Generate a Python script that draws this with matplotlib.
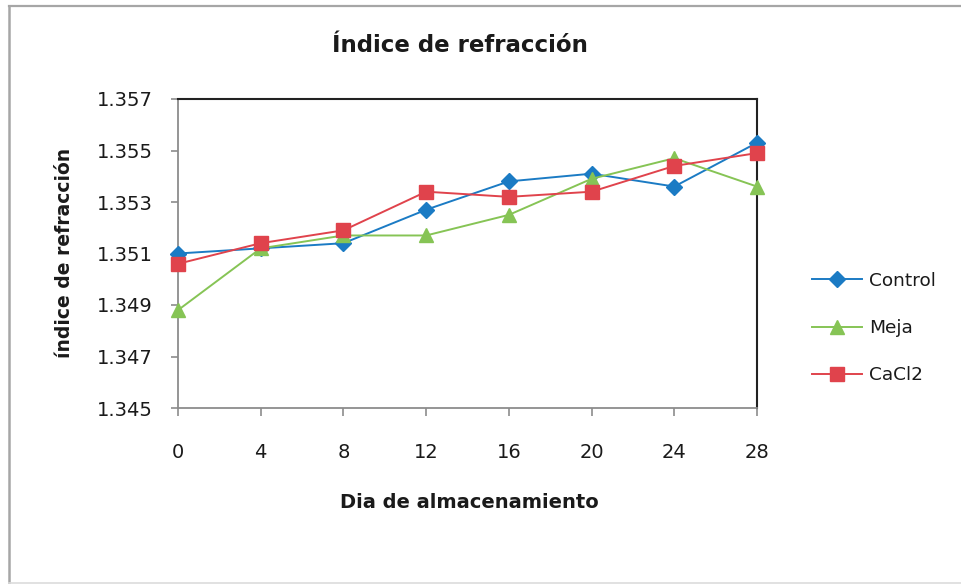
import matplotlib
matplotlib.use("Agg")
import matplotlib.pyplot as plt
from matplotlib.lines import Line2D

days = [0, 4, 8, 12, 16, 20, 24, 28]
control = [1.3510, 1.3512, 1.3514, 1.3527, 1.3538, 1.3541, 1.3536, 1.3553]
meja = [1.3488, 1.3512, 1.3517, 1.3517, 1.3525, 1.3539, 1.3547, 1.3536]
cacl2 = [1.3506, 1.3514, 1.3519, 1.3534, 1.3532, 1.3534, 1.3544, 1.3549]
y_ticks = [1.345, 1.347, 1.349, 1.351, 1.353, 1.355, 1.357]

plt.rcParams['font.family'] = ['DejaVu Sans']

W, H = 961, 584
fig = plt.figure(figsize=(W / 100, H / 100), dpi=100)

def fx(px):
    return px / W

def fy(py):
    return 1 - py / H

# outer chart border (Excel chart area)
fig.lines.append(Line2D([fx(8.5), fx(961)], [fy(6), fy(6)], transform=fig.transFigure, color='#a6a6a6', lw=1.6))
fig.lines.append(Line2D([fx(8.5), fx(8.5)], [fy(6), fy(584)], transform=fig.transFigure, color='#a6a6a6', lw=1.8))
fig.lines.append(Line2D([fx(8.5), fx(961)], [fy(583), fy(583)], transform=fig.transFigure, color='#dcdcdc', lw=1.2))

ax = fig.add_axes([fx(178), fy(408), (757 - 178) / W, (408 - 99) / H])
x = list(range(len(days)))
ax.plot(x, control, color='#1b7bc4', marker='D', markersize=8.5, linewidth=1.4, label='Control', clip_on=False, zorder=3)
ax.plot(x, meja, color='#86c455', marker='^', markersize=10.5, linewidth=1.4, label='Meja', clip_on=False, zorder=3)
ax.plot(x, cacl2, color='#e0434c', marker='s', markersize=10, linewidth=1.4, label='CaCl2', clip_on=False, zorder=3)

ax.set_xlim(0, len(days) - 1)
ax.set_ylim(1.345, 1.357)
ax.set_xticks(x)
ax.set_xticklabels([str(d) for d in days])
ax.set_yticks(y_ticks)
ax.set_yticklabels([f"{v:.3f}" for v in y_ticks])
ax.tick_params(axis='both', labelsize=14, color='#8c8c8c', direction='out', labelcolor='#1a1a1a')
ax.tick_params(axis='x', length=6, width=1.2, pad=19)
ax.tick_params(axis='y', length=5, width=1.2, pad=13)
for s in ['left', 'bottom']:
    ax.spines[s].set_color('#8c8c8c')
    ax.spines[s].set_linewidth(1.3)
for s in ['top', 'right']:
    ax.spines[s].set_color('#222222')
    ax.spines[s].set_linewidth(1.5)

fig.text(fx(460), fy(46), 'Índice de refracción', ha='center', va='center',
         fontsize=16.5, fontweight='bold', color='#1a1a1a')
fig.text(fx(65), fy(253), 'índice de refracción', ha='center', va='center', rotation=90,
         fontsize=13.5, fontweight='bold', color='#1a1a1a')
fig.text(fx(469), fy(503), 'Dia de almacenamiento', ha='center', va='center',
         fontsize=14, fontweight='bold', color='#1a1a1a')

leg = fig.legend(loc='center left', bbox_to_anchor=(fx(812), fy(328)), frameon=False,
                 fontsize=13.3, handlelength=2.7, labelspacing=1.58, handletextpad=0.38,
                 borderaxespad=0, borderpad=0)
for t in leg.get_texts():
    t.set_color('#1a1a1a')

fig.savefig('out.png', dpi=100)
